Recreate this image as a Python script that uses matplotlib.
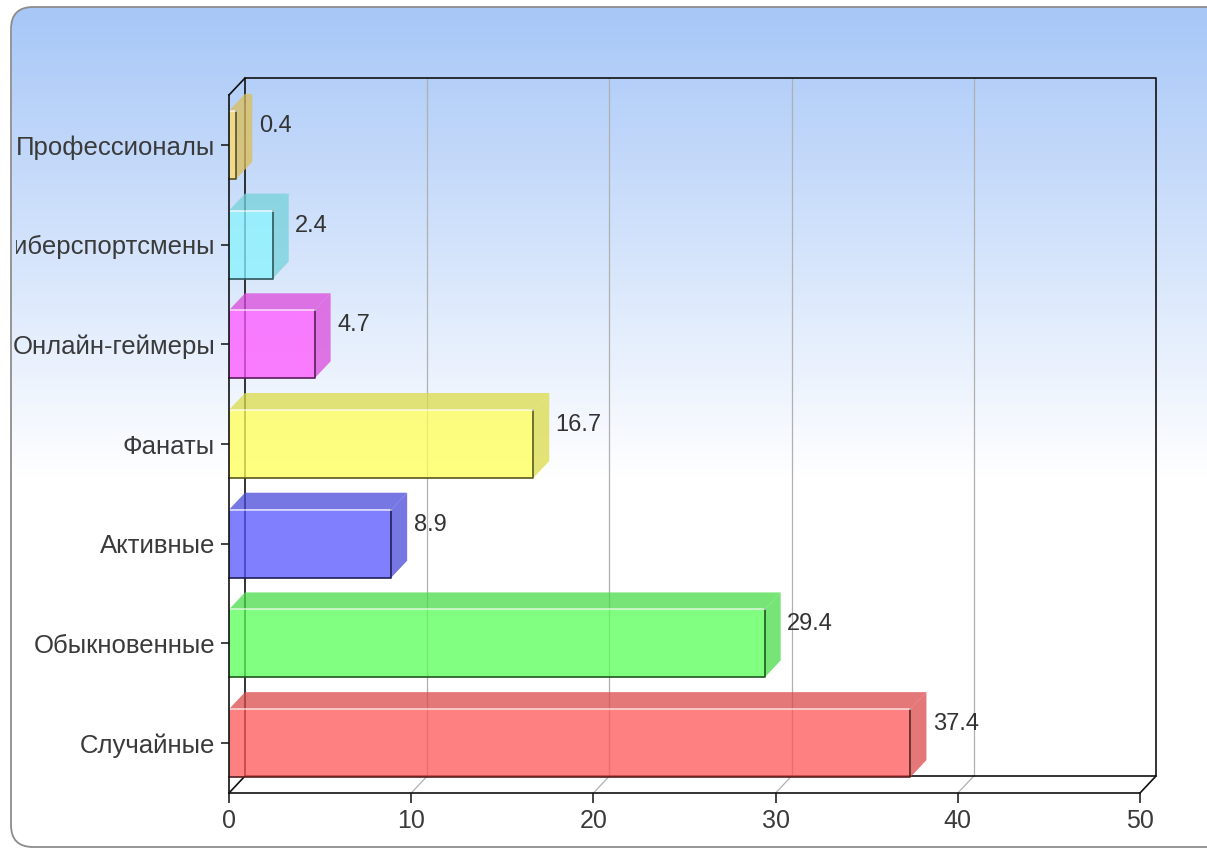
import numpy as np
import matplotlib
matplotlib.use("Agg")
import matplotlib.pyplot as plt
from matplotlib.patches import Polygon, Rectangle, FancyBboxPatch
from matplotlib.transforms import Bbox
from matplotlib.colors import to_rgb

plt.rcParams['font.family'] = ['Liberation Sans', 'DejaVu Sans']

# data, bottom category first
categories = ["Случайные", "Обыкновенные", "Активные", "Фанаты",
              "Онлайн-геймеры", "Киберспортсмены", "Профессионалы"]
values = [37.4, 29.4, 8.9, 16.7, 4.7, 2.4, 0.4]
bar_colors = ["#ff5555", "#55ff55", "#5555ff", "#ffff55",
              "#ff55ff", "#88f4ff", "#ffdd66"]
x_ticks = [0, 10, 20, 30, 40, 50]

W, H = 1207, 850
fig = plt.figure(figsize=(W / 100, H / 100), dpi=100)
fig.patch.set_facecolor("white")

# rounded frame with a blue -> white gradient
bg = fig.add_axes([0, 0, 1, 1], zorder=0)
bg.set_xlim(0, W)
bg.set_ylim(H, 0)
bg.axis("off")
rows = np.arange(H)
t = np.clip((rows - 8) / 470.0, 0, 1)[:, None]
top_col = np.array([0.655, 0.780, 0.970])
grad = top_col * (1 - t) + t
frame = FancyBboxPatch((11, 7), 1240, 840, boxstyle="round,pad=0,rounding_size=22",
                       fc="none", ec="none", zorder=3)
bg.add_patch(frame)
img = bg.imshow(grad[:, None, :], extent=[0, W, H, 0], aspect="auto", zorder=1)
img.set_clip_path(frame)

# plot area = front frame of the 3d box
left, right, top, bottom = 229, 1140, 95, 793
ax = fig.add_axes([left / W, (H - bottom) / H, (right - left) / W, (bottom - top) / H], zorder=1)
ax.patch.set_alpha(0)
n = len(categories)
ax.set_xlim(0, 50)
ax.set_ylim(-0.5, n - 0.5)

# 3d depth in data units
dx = 16 * 50 / (right - left)
dy = 17 * n / (bottom - top)
y_lo, y_hi = -0.5, n - 0.5

# back wall, floor and grid
grid_kw = dict(color="#b0b0b0", lw=0.9, clip_on=False, zorder=1)
for v in x_ticks[1:-1]:
    ax.plot([v + dx, v + dx], [y_lo + dy, y_hi + dy], **grid_kw)
    ax.plot([v, v + dx], [y_lo, y_lo + dy], **grid_kw)
wall_kw = dict(color="#111111", lw=1.2, clip_on=False, zorder=1.5)
ax.plot([dx, dx, 50 + dx, 50 + dx, dx], [y_lo + dy, y_hi + dy, y_hi + dy, y_lo + dy, y_lo + dy], **wall_kw)
ax.plot([0, dx], [y_hi, y_hi + dy], **wall_kw)
ax.plot([0, dx], [y_lo, y_lo + dy], **wall_kw)
ax.plot([50, 50 + dx], [y_lo, y_lo + dy], **wall_kw)

# bars
h = 0.341
alpha = 0.75
for i, (v, c) in enumerate(zip(values, bar_colors)):
    rgb = np.array(to_rgb(c))
    shade = tuple(rgb * 0.86) + (alpha,)
    dark = tuple(rgb * 0.35)
    y0, y1 = i - h, i + h
    ax.add_patch(Polygon([(0, y1), (dx, y1 + dy), (v + dx, y1 + dy), (v, y1)],
                         closed=True, fc=shade, ec="none", clip_on=False, zorder=2))
    ax.add_patch(Polygon([(v, y0), (v, y1), (v + dx, y1 + dy), (v + dx, y0 + dy)],
                         closed=True, fc=shade, ec="none", clip_on=False, zorder=2))
    ax.add_patch(Rectangle((0, y0), v, 2 * h, fc=tuple(rgb) + (alpha,), ec="none",
                           clip_on=False, zorder=2.2))
    ax.plot([0, v, v], [y0, y0, y1], color=dark, lw=1.2, clip_on=False, zorder=2.3)
    ax.plot([0, v], [y1, y1], color="white", lw=1.2, alpha=0.7, clip_on=False, zorder=2.3)
    ax.text(v + dx + 0.35, i + dy + 0.02, f"{v}", ha="left", va="center",
            fontsize=17, color="#333333", zorder=3)

# axes styling
for s in ["top", "right"]:
    ax.spines[s].set_visible(False)
for s in ["left", "bottom"]:
    ax.spines[s].set_color("#111111")
    ax.spines[s].set_linewidth(1.2)
    ax.spines[s].set_zorder(2.5)
ax.set_yticks(range(n), categories)
ax.set_xticks(x_ticks, [str(v) for v in x_ticks])
ax.tick_params(axis="y", length=6, width=1.1, pad=4, labelsize=18.5, labelcolor="#3a3a3a", color="#111111")
ax.tick_params(axis="x", length=7.5, width=1.1, pad=4, labelsize=18, labelcolor="#3a3a3a", color="#111111")

# the long label is cut by the frame in the original
for lbl in ax.get_yticklabels():
    cut = 16 if lbl.get_text() == "Киберспортсмены" else 12
    lbl.set_clip_box(Bbox.from_extents(cut, 0, W, H - 8))
    lbl.set_clip_on(True)

# overlay: white margin left of the frame, then the frame border itself
over = fig.add_axes([0, 0, 1, 1], zorder=5)
over.set_xlim(0, W)
over.set_ylim(H, 0)
over.axis("off")
over.add_patch(Rectangle((0, 0), 11.5, H, fc="white", ec="none"))
over.add_patch(FancyBboxPatch((11, 7), 1240, 840, boxstyle="round,pad=0,rounding_size=22",
                              fc="none", ec="#8c8c8c", lw=1.3))

fig.savefig("out.png", dpi=100)
